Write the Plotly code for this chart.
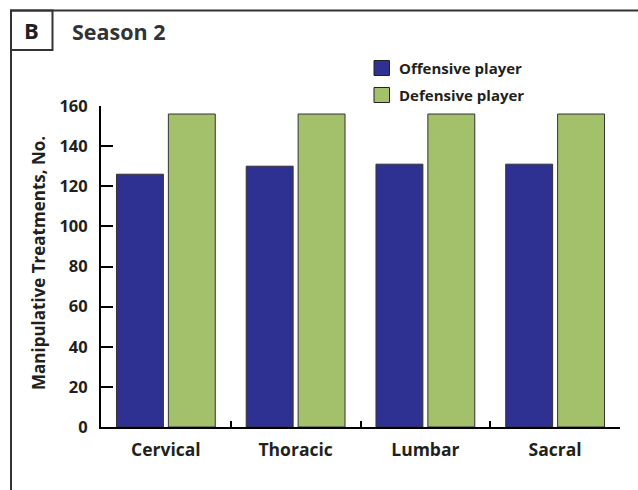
import plotly.graph_objects as go

categories = ["Cervical", "Thoracic", "Lumbar", "Sacral"]
offensive = [126, 130, 131, 131]
defensive = [156, 156, 156, 156]
series_names = ["Offensive player", "Defensive player"]
y_ticks = [0, 20, 40, 60, 80, 100, 120, 140, 160]
panel_label = "B"
panel_title = "Season 2"
y_title = "Manipulative Treatments, No."

BLUE = "#2E3192"
GREEN = "#A3C16B"
TXT = "#231F20"
FONT = "Open Sans"

W, H = 638, 490
L, R, T, B = 101, 18, 106, 63
PW, PH = W - L - R, H - T - B


def px(x):
    return (x - L) / PW


def py(y):
    return (H - B - y) / PH


fig = go.Figure()
fig.add_trace(go.Bar(x=categories, y=offensive, name=series_names[0],
                     marker=dict(color=BLUE, line=dict(color="#333333", width=1))))
fig.add_trace(go.Bar(x=categories, y=defensive, name=series_names[1],
                     marker=dict(color=GREEN, line=dict(color="#333333", width=1))))

fig.update_layout(
    width=W, height=H,
    margin=dict(l=L, r=R, t=T, b=B, pad=0),
    paper_bgcolor="white", plot_bgcolor="white",
    barmode="group", bargap=0.2, bargroupgap=0.096,
    showlegend=False,
    font=dict(family=FONT, color=TXT),
)
fig.update_xaxes(
    type="category", range=[-0.5, 3.5], tickson="boundaries",
    ticks="inside", ticklen=6, tickwidth=2, tickcolor="black",
    showline=True, linewidth=2, linecolor="black", showgrid=False,
    tickfont=dict(family=FONT, size=17.5, color=TXT, weight="bold"),
    ticklabelstandoff=6,
)
fig.update_yaxes(
    range=[0, 160], tickvals=y_ticks, ticks="inside", ticklen=12, tickwidth=2,
    tickcolor="black", showline=True, linewidth=2, linecolor="black",
    showgrid=False, zeroline=False,
    tickfont=dict(family=FONT, size=16.5, color=TXT, weight="bold"),
    ticklabelstandoff=8,
)

line = dict(color="#333333", width=2)
shapes = [
    dict(type="line", xref="paper", yref="paper", x0=px(10), x1=px(645), y0=py(10.5), y1=py(10.5), line=line),
    dict(type="line", xref="paper", yref="paper", x0=px(11), x1=px(11), y0=py(10), y1=py(500), line=line),
    dict(type="rect", xref="paper", yref="paper", x0=px(11), x1=px(52.5), y0=py(10.5), y1=py(50), line=line),
]
# manual legend
for i, (name, col) in enumerate(zip(series_names, [BLUE, GREEN])):
    cy = 68 + i * 27
    shapes.append(dict(type="rect", xref="paper", yref="paper",
                       x0=px(374), x1=px(389.5), y0=py(cy - 7.5), y1=py(cy + 7.5),
                       fillcolor=col, line=dict(color="#222222", width=1)))
fig.update_layout(shapes=shapes)

ann = [
    dict(text=panel_label, x=px(31.5), y=py(30), xref="paper", yref="paper",
         showarrow=False, xanchor="center", yanchor="middle",
         font=dict(family=FONT, size=22, color=TXT, weight="bold")),
    dict(text=panel_title, x=px(70), y=py(32), xref="paper", yref="paper",
         showarrow=False, xanchor="left", yanchor="middle",
         font=dict(family=FONT, size=21.5, color="#333333", weight="bold")),
    dict(text=y_title, x=px(38), y=py(263), xref="paper", yref="paper",
         showarrow=False, xanchor="center", yanchor="middle", textangle=-90,
         font=dict(family=FONT, size=17, color=TXT, weight="bold")),
]
for i, name in enumerate(series_names):
    cy = 68 + i * 27
    ann.append(dict(text=name, x=px(397), y=py(cy), xref="paper", yref="paper",
                    showarrow=False, xanchor="left", yanchor="middle",
                    font=dict(family=FONT, size=15, color=TXT, weight="bold")))
fig.update_layout(annotations=ann)

fig.write_html("out.html", config={"displayModeBar": False},
               post_script="document.body.style.margin='0';document.body.style.padding='0';")
